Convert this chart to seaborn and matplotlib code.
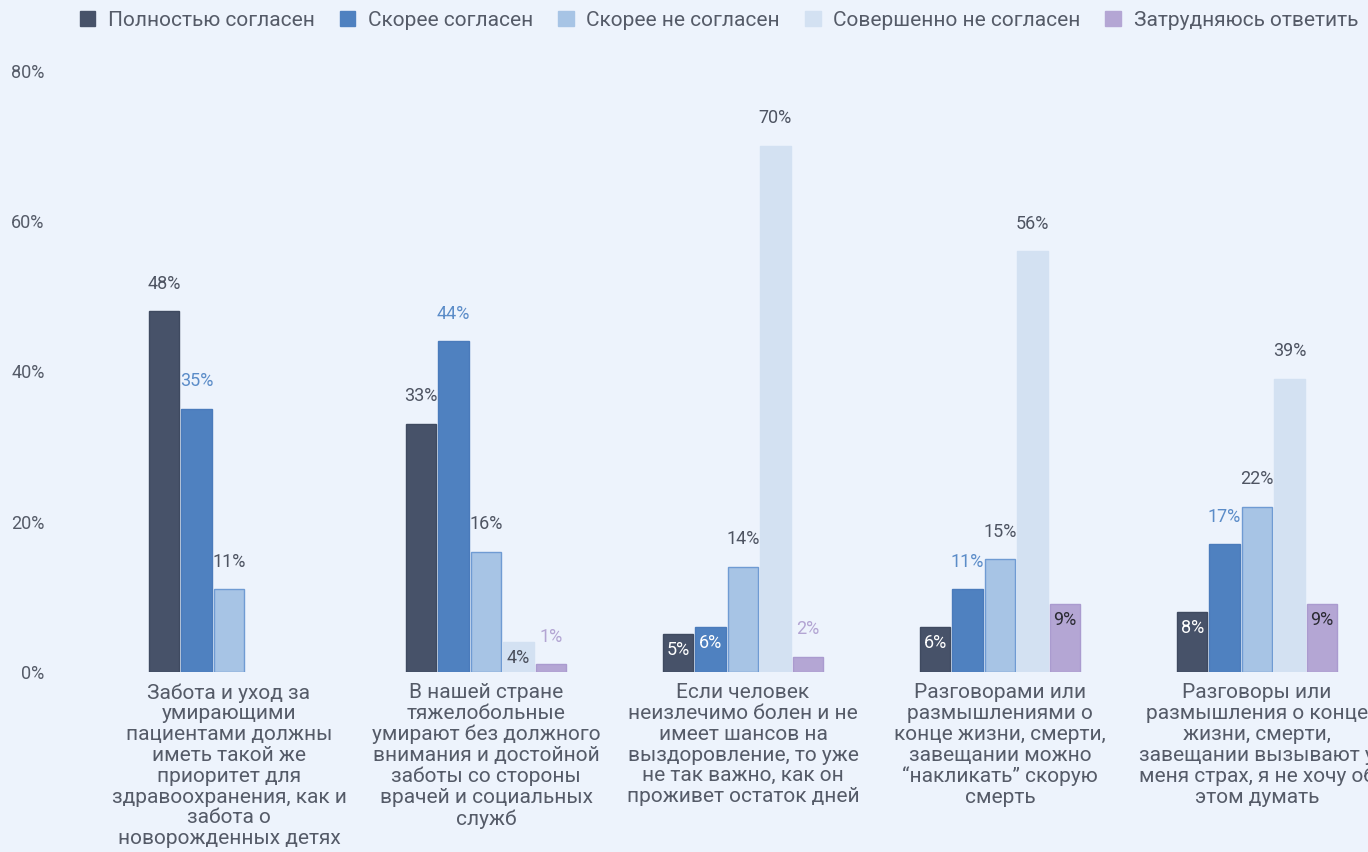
import numpy as np
import pandas as pd
import matplotlib.pyplot as plt
import seaborn as sns
from matplotlib.patches import Patch

# survey answers, % of respondents
questions = [
    'Забота и уход за\nумирающими\nпациентами должны\nиметь такой же\nприоритет для\nздравоохранения, как и\nзабота о\nноворожденных детях',
    'В нашей стране\nтяжелобольные\nумирают без должного\nвнимания и достойной\nзаботы со стороны\nврачей и социальных\nслужб',
    'Если человек\nнеизлечимо болен и не\nимеет шансов на\nвыздоровление, то уже\nне так важно, как он\nпроживет остаток дней',
    'Разговорами или\nразмышлениями о\nконце жизни, смерти,\nзавещании можно\n“накликать” скорую\nсмерть',
    'Разговоры или\nразмышления о конце\nжизни, смерти,\nзавещании вызывают у\nменя страх, я не хочу об\nэтом думать',
]
answers = ['Полностью согласен', 'Скорее согласен', 'Скорее не согласен',
           'Совершенно не согласен', 'Затрудняюсь ответить']

fully_agree = [48, 33, 5, 6, 8]
rather_agree = [35, 44, 6, 11, 17]
rather_disagree = [11, 16, 14, 15, 22]
fully_disagree = [np.nan, 4, 70, 56, 39]
hard_to_say = [np.nan, 1, 2, 9, 9]

df = pd.DataFrame({
    'question': np.tile(questions, len(answers)),
    'answer': np.repeat(answers, len(questions)),
    'share': fully_agree + rather_agree + rather_disagree + fully_disagree + hard_to_say,
})

colors = ['#475269', '#4f81c0', '#a7c4e5', '#d3e1f2', '#b4a6d4']
edges = ['#3f4a60', '#4a7bbb', '#6f9bd3', '#d3e1f2', '#aa9bcf']
above_colors = ['#4e5462', '#5b8cc8', '#4e5462', '#4e5462', '#b3a5d3']
# labels that sit inside the top of the bar: (question, answer) -> colour
inside = {(2, 0): 'white', (2, 1): 'white', (3, 0): 'white', (4, 0): 'white',
          (1, 3): '#4a4f5c', (3, 4): '#2b2b33', (4, 4): '#2b2b33'}

bg = '#edf3fc'
sns.set_style('white', {'axes.facecolor': bg, 'figure.facecolor': bg})
plt.rcParams['font.family'] = ['Roboto', 'DejaVu Sans']

fig = plt.figure(figsize=(13.68, 8.52), dpi=100)
ax = fig.add_axes([60 / 1368, 180 / 852, 1308 / 1368, 601 / 852])

sns.barplot(data=df, x='question', y='share', hue='answer', order=questions,
            hue_order=answers, palette=colors, saturation=1, width=0.63, gap=0.06,
            legend=False, ax=ax)

for s, cont in enumerate(ax.containers):
    for bar in cont:
        h = bar.get_height()
        if np.isnan(h):
            continue
        bar.set_edgecolor(edges[s])
        bar.set_linewidth(1)
        cx = bar.get_x() + bar.get_width() / 2
        g = int(round(cx))
        if (g, s) in inside:
            ax.annotate(f'{h:.0f}%', (cx, h), xytext=(0, -11.5), textcoords='offset points',
                        ha='center', va='center', fontsize=13, color=inside[(g, s)])
        else:
            ax.annotate(f'{h:.0f}%', (cx, h), xytext=(0, 20), textcoords='offset points',
                        ha='center', va='center', fontsize=13, color=above_colors[s])

ax.set_xlim((60 - 229) / 257, (1368 - 229) / 257)
ax.set_ylim(0, 80)
ax.set_yticks([0, 20, 40, 60, 80])
ax.set_yticklabels([f'{t}%' for t in [0, 20, 40, 60, 80]])
ax.tick_params(axis='y', length=0, pad=11, labelsize=13, labelcolor='#555b68')
ax.tick_params(axis='x', length=0, pad=8, labelsize=15, labelcolor='#555b68')
for lbl in ax.get_xticklabels():
    lbl.set_linespacing(1.12)
ax.set_xlabel('')
ax.set_ylabel('')
sns.despine(ax=ax, left=True, bottom=True)

handles = [Patch(facecolor=c, edgecolor=c) for c in colors]
fig.legend(handles, answers, loc='center left', bbox_to_anchor=(61 / 1368, 1 - 20 / 852),
           ncol=5, frameon=False, fontsize=15, handlelength=0.75, handleheight=0.75,
           handletextpad=0.6, columnspacing=1.2, labelcolor='#555b68')

fig.savefig('out.png', dpi=100, facecolor=bg)
